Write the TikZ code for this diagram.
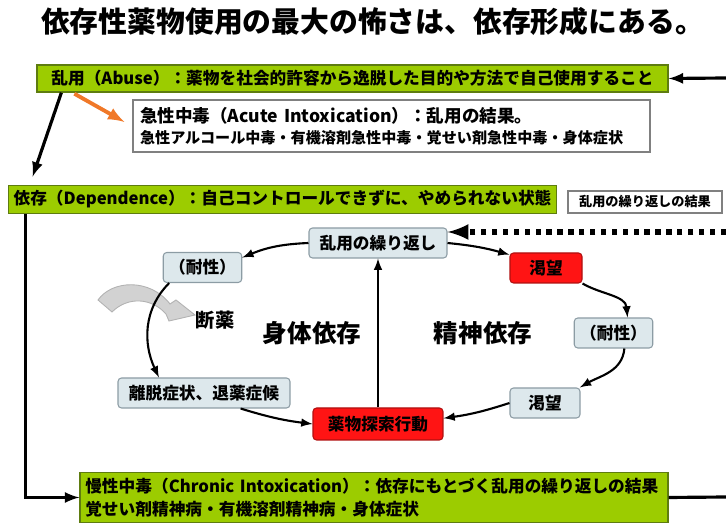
\documentclass[tikz,border=0pt]{standalone}
\usepackage{fontspec}
\setmainfont{Noto Sans CJK JP}
\usepackage{xcolor}
\usetikzlibrary{arrows,calc}

\definecolor{leaf}{HTML}{9CCC00}
\definecolor{leafline}{HTML}{5E7C10}
\definecolor{pale}{HTML}{DDE8EC}
\definecolor{paleline}{HTML}{8C9CA4}
\definecolor{alarm}{HTML}{FF1414}
\definecolor{alarmline}{HTML}{B01010}
\definecolor{hint}{HTML}{F07828}

\begin{document}
\begin{tikzpicture}[x=0.02cm,y=0.02cm,
	greenbox/.style={draw=leafline,fill=leaf,line width=0.8pt,inner sep=3pt,font=\bfseries\fontsize{9.5}{13}\selectfont},
	notebox/.style={draw=gray,fill=white,line width=0.6pt,inner sep=4pt},
	cyc/.style={draw=paleline,fill=pale,line width=0.6pt,rounded corners=2pt,minimum height=0.6cm,font=\bfseries\fontsize{9.5}{11}\selectfont},
	hot/.style={cyc,draw=alarmline,fill=alarm},
	big/.style={font=\bfseries\fontsize{14}{16}\selectfont}]
	\useasboundingbox (0,0) rectangle (726,526);
	%
	\node (Title) at (372.5,504) {\bfseries\fontsize{16.4}{18}\selectfont 依存性薬物使用の最大の怖さは、依存形成にある。};
	\node[greenbox,minimum width=12.62cm,minimum height=0.54cm] (Abuse) at (352.5,447.5) {乱用（Abuse）：薬物を社会的許容から逸脱した目的や方法で自己使用すること};
	\node[notebox,text width=10.06cm,align=left,minimum height=1.04cm] (Acute) at (391.5,400) {{\bfseries\fontsize{10}{14}\selectfont 急性中毒（Acute Intoxication）：乱用の結果。}\\{\bfseries\fontsize{8.6}{12}\selectfont 急性アルコール中毒・有機溶剤急性中毒・覚せい剤急性中毒・身体症状}};
	\node[greenbox,minimum width=10.9cm,minimum height=0.5cm] (Dep) at (282.5,326.5) {依存（Dependence）：自己コントロールできずに、やめられない状態};
	\node[notebox,minimum width=3.08cm,minimum height=0.44cm,inner sep=2pt,font=\bfseries\fontsize{7.5}{9}\selectfont] (Result) at (645,324) {乱用の繰り返しの結果};
	\node[greenbox,text width=11.55cm,align=left,minimum height=0.98cm] (Chron) at (374,28.5) {慢性中毒（Chronic Intoxication）：依存にもとづく乱用の繰り返しの結果\\覚せい剤精神病・有機溶剤精神病・身体症状};
	%
	\node[cyc,minimum width=2.76cm] (Rep) at (378,283) {乱用の繰り返し};
	\node[cyc,minimum width=1.5cm] (TolL) at (202.5,258.5) {（耐性）};
	\node[cyc,minimum width=3.44cm] (Withdr) at (204,133) {離脱症状、退薬症候};
	\node[hot,minimum width=2.6cm,minimum height=0.64cm] (Seek) at (378,102) {薬物探索行動};
	\node[hot,minimum width=1.44cm] (CraveA) at (546,258) {渇望};
	\node[cyc,minimum width=1.54cm] (TolR) at (613.5,193) {（耐性）};
	\node[cyc,minimum width=1.4cm] (CraveB) at (545,123) {渇望};
	\node[big] (Phys) at (312,193) {身体依存};
	\node[big] (Psych) at (483,193) {精神依存};
	\node[font=\bfseries\fontsize{11}{13}\selectfont] (Stop) at (215,206) {断薬};
	%
	\coordinate (InR) at (726,448);
	\coordinate (OutR) at (726,29);
	\coordinate (DotR) at (726,294);
	%
	\fill[gray!35,draw=gray!60,line width=0.5pt] (98,226) .. controls (112,246) and (150,248) .. (170,222)
		-- (176,226) -- (195,211) -- (169,205) -- (166,212)
		.. controls (152,228) and (128,230) .. (112,214) -- cycle;
	%
	\draw[->,>=latex,line width=1.8pt] (InR) -- (Abuse.east);
	\draw[line width=1.8pt] (Chron.east) -- (OutR);
	\draw[->,>=latex,line width=1.8pt] ($(Abuse.south west)+(25,0)$) -- ($(Dep.north west)+(25,8)$);
	\draw[->,>=latex,line width=2.2pt,hint] ($(Abuse.south west)+(38,-1)$) -- ($(Acute.west)+(-8,4)$);
	\draw[->,>=latex,line width=1.8pt] ($(Dep.south west)+(18,0)$) |- (Chron.west);
	\draw[->,>=latex,line width=3pt,dash pattern=on 3pt off 3.2pt] (DotR) -- (Rep.east |- DotR);
	%
	\path[->,>=latex,line width=1.2pt]
	(Rep.west) edge[bend right=10] (TolL.14)
	(TolL.205) edge[out=225,in=115] (Withdr.161)
	(Withdr.337) edge[bend right=5] (Seek.west)
	(Seek.north) edge (Rep.south)
	(Rep.east) edge[bend left=5] (CraveA.160)
	(CraveA.south east) edge[out=-30,in=95] (TolR.48)
	(TolR.305) edge[out=-95,in=30] (CraveB.24)
	(CraveB.west) edge[bend left=5] (Seek.5);
\end{tikzpicture}
\end{document}
